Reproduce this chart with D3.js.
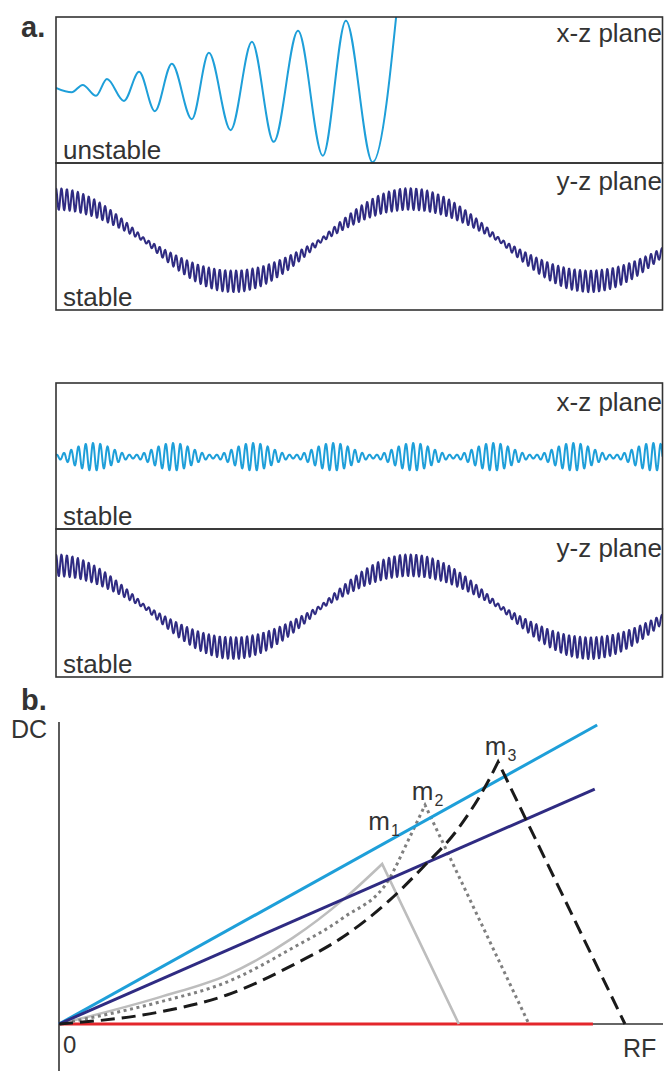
<!DOCTYPE html>
<html>
<head>
<meta charset="utf-8">
<script src="https://cdn.jsdelivr.net/npm/d3@7"></script>
<style>
  body { margin: 0; background: #fff; }
  svg { display: block; font-family: "Liberation Sans", Arial, sans-serif; }
</style>
</head>
<body>
<svg id="chart" width="664" height="1071"></svg>
<script>
// ---------- panel a data ----------
// unstable x-z trace: turning points (time in % of window, displacement with box half-height = 1)
const unstableT = [0, 2.6, 4.4, 6.6, 8.4, 11.2, 13.7, 16.3, 19.1, 22.4, 25.2, 28.8, 32.3, 35.9, 39.9, 44.0, 47.8, 52.2, 56.8];
const unstableD = [0.03, -0.03, 0.07, -0.08, 0.15, -0.15, 0.25, -0.29, 0.36, -0.40, 0.51, -0.55, 0.66, -0.71, 0.81, -0.90, 0.95, -0.99, 1.6];

// stable y-z trace: secular turning points + micromotion
const yzTurnT = [0, 29.2, 58.3, 88.0];
const yzSecAmp = 0.56;
const yzOffset = -0.05;
const yzRipplePeriod = 0.9;
const yzRippleRatio = 0.22;
const yzRippleFloor = 0.025;

// stable x-z trace: beat groups of micromotion
const xzGroupStart = 6.1;
const xzGroupSpacing = 13.2;
const xzRipplePeriod = 1.2;
const xzMaxAmp = 0.19;
const xzMinAmp = 0.025;
const xzOffset = -0.01;

// boxes: [top, bottom], trace type, labels
const boxTops    = [17, 163, 383, 529];
const boxBottoms = [163, 310, 529, 677];
const boxTraces  = ["unstable", "yz", "xz", "yz"];
const boxPlanes  = ["x-z plane", "y-z plane", "x-z plane", "y-z plane"];
const boxStates  = ["unstable", "stable", "stable", "stable"];
const planeBase  = [42, 190, 411, 557];

// ---------- panel b data (RF, DC in % of axis) ----------
const blueLine   = [[0, 0], [89.1, 99.0]];
const purpleLine = [[0, 0], [88.7, 77.8]];
const redLine    = [[0, 0], [88.4, 0]];
const m1Rise = [[0, 0], [16.7, 8.9], [27.8, 16.2], [38.7, 28.5], [47.0, 41.1], [53.5, 53.0]];
const m1Fall = [66.2, 0];
const m2Rise = [[0, 0], [16.7, 7.3], [27.8, 13.9], [38.7, 25.2], [47.0, 35.1], [54.8, 48.5], [57.6, 59.9], [60.6, 72.5]];
const m2Fall = [77.8, 0];
const m3Rise = [[0, 0], [16.7, 4.0], [27.8, 9.6], [38.7, 19.5], [47.0, 28.8], [54.8, 41.1], [60.3, 52.0], [65.9, 64.2], [70.9, 79.8], [72.7, 86.8]];
const m3Fall = [93.7, 0];
const massSubs = ["1", "2", "3"];
const massLabelRF = [51.2, 58.4, 70.5];
const massLabelDC = [64.2, 74.2, 89.1];

const cyan = "#1e9fd9", purple = "#2f2b82", ink = "#333";

const svg = d3.select("#chart");
const boxLeft = 56, boxRight = 662.5;

// ---------- panel a ----------
svg.append("text").attr("x", 21).attr("y", 37)
  .attr("font-size", 29).attr("font-weight", "bold").attr("fill", ink).text("a.");

function yzTrace(t) {
  // secular motion: half cosines between read turning points
  let i = 0;
  while (i < yzTurnT.length - 2 && t > yzTurnT[i + 1]) i++;
  const span = yzTurnT[i + 1] - yzTurnT[i];
  const ph = Math.PI * (t - yzTurnT[i]) / span + i * Math.PI;
  const s = yzSecAmp * Math.cos(ph);
  return yzOffset + s + (yzRippleRatio * Math.abs(s) + yzRippleFloor) * Math.cos(2 * Math.PI * t / yzRipplePeriod);
}

function xzTrace(t) {
  const c = Math.abs(Math.cos(Math.PI * (t - xzGroupStart) / xzGroupSpacing));
  const env = xzMinAmp + (xzMaxAmp - xzMinAmp) * c * c;
  return xzOffset + env * Math.sin(2 * Math.PI * (t - xzGroupStart) / xzRipplePeriod + Math.PI / 2);
}

const times = d3.range(0, 100.05, 0.08);

boxTops.forEach((top, i) => {
  const bottom = boxBottoms[i];
  const x = d3.scaleLinear().domain([0, 100]).range([boxLeft, boxRight]);
  const y = d3.scaleLinear().domain([-1, 1]).range([bottom, top]);
  const g = svg.append("g");

  g.append("clipPath").attr("id", "clip" + i)
    .append("rect").attr("x", boxLeft).attr("y", top)
    .attr("width", boxRight - boxLeft).attr("height", bottom - top);

  let path;
  if (boxTraces[i] === "unstable") {
    const pts = unstableT.map((t, k) => [t, unstableD[k]]);
    path = d3.line().x(d => x(d[0])).y(d => y(d[1])).curve(d3.curveMonotoneX)(pts);
  } else {
    const f = boxTraces[i] === "yz" ? yzTrace : xzTrace;
    path = d3.line().x(t => x(t)).y(t => y(f(t)))(times);
  }

  g.append("path")
    .attr("d", path)
    .attr("clip-path", `url(#clip${i})`)
    .attr("fill", "none")
    .attr("stroke", boxTraces[i] === "yz" ? purple : cyan)
    .attr("stroke-width", 2)
    .attr("stroke-linejoin", "round");

  g.append("rect")
    .attr("x", boxLeft).attr("y", top)
    .attr("width", boxRight - boxLeft).attr("height", bottom - top)
    .attr("fill", "none").attr("stroke", ink).attr("stroke-width", 1.6);

  g.append("text")
    .attr("x", 662).attr("y", planeBase[i])
    .attr("text-anchor", "end").attr("font-size", 26).attr("fill", ink)
    .text(boxPlanes[i]);

  g.append("text")
    .attr("x", 63).attr("y", bottom - 4)
    .attr("font-size", 26).attr("fill", ink)
    .text(boxStates[i]);
});

// ---------- panel b ----------
svg.append("text").attr("x", 21).attr("y", 710)
  .attr("font-size", 29).attr("font-weight", "bold").attr("fill", ink).text("b.");

const rf = d3.scaleLinear().domain([0, 100]).range([59, 663]);
const dc = d3.scaleLinear().domain([0, 100]).range([1024, 722]);
const gb = svg.append("g");

// axes
gb.append("line").attr("x1", rf(0)).attr("x2", rf(0)).attr("y1", dc(100)).attr("y2", dc(-16))
  .attr("stroke", ink).attr("stroke-width", 1.6);
gb.append("line").attr("x1", rf(0)).attr("x2", rf(100)).attr("y1", dc(0)).attr("y2", dc(0))
  .attr("stroke", ink).attr("stroke-width", 1.6);

const line = d3.line().x(d => rf(d[0])).y(d => dc(d[1]));
const curve = d3.line().x(d => rf(d[0])).y(d => dc(d[1])).curve(d3.curveMonotoneX);

function massPath(rise, fall) {
  return curve(rise) + `L${rf(fall[0])},${dc(fall[1])}`;
}

gb.append("path").attr("d", line(redLine)).attr("stroke", "#e3262b").attr("stroke-width", 3).attr("fill", "none");

gb.append("path").attr("d", massPath(m1Rise, m1Fall))
  .attr("fill", "none").attr("stroke", "#bdbdbd").attr("stroke-width", 2.6).attr("stroke-linejoin", "miter");
gb.append("path").attr("d", massPath(m2Rise, m2Fall))
  .attr("fill", "none").attr("stroke", "#7f7f7f").attr("stroke-width", 3).attr("stroke-dasharray", "3 3.6");

gb.append("path").attr("d", line(blueLine)).attr("stroke", cyan).attr("stroke-width", 3).attr("fill", "none");
gb.append("path").attr("d", line(purpleLine)).attr("stroke", purple).attr("stroke-width", 3).attr("fill", "none");

gb.append("path").attr("d", massPath(m3Rise, m3Fall))
  .attr("fill", "none").attr("stroke", "#1a1a1a").attr("stroke-width", 3).attr("stroke-dasharray", "14 7");

// mass labels
massSubs.forEach((s, i) => {
  const t = gb.append("text")
    .attr("x", rf(massLabelRF[i])).attr("y", dc(massLabelDC[i]))
    .attr("font-size", 26).attr("fill", ink).text("m");
  t.append("tspan").attr("font-size", 16).attr("dy", 6).attr("dx", 1).text(s);
});

// axis labels
gb.append("text").attr("x", 11).attr("y", 738).attr("font-size", 25).attr("fill", ink).text("DC");
gb.append("text").attr("x", 63).attr("y", 1053).attr("font-size", 24).attr("fill", ink).text("0");
gb.append("text").attr("x", 623).attr("y", 1057).attr("font-size", 25).attr("fill", ink).text("RF");
</script>
</body>
</html>
